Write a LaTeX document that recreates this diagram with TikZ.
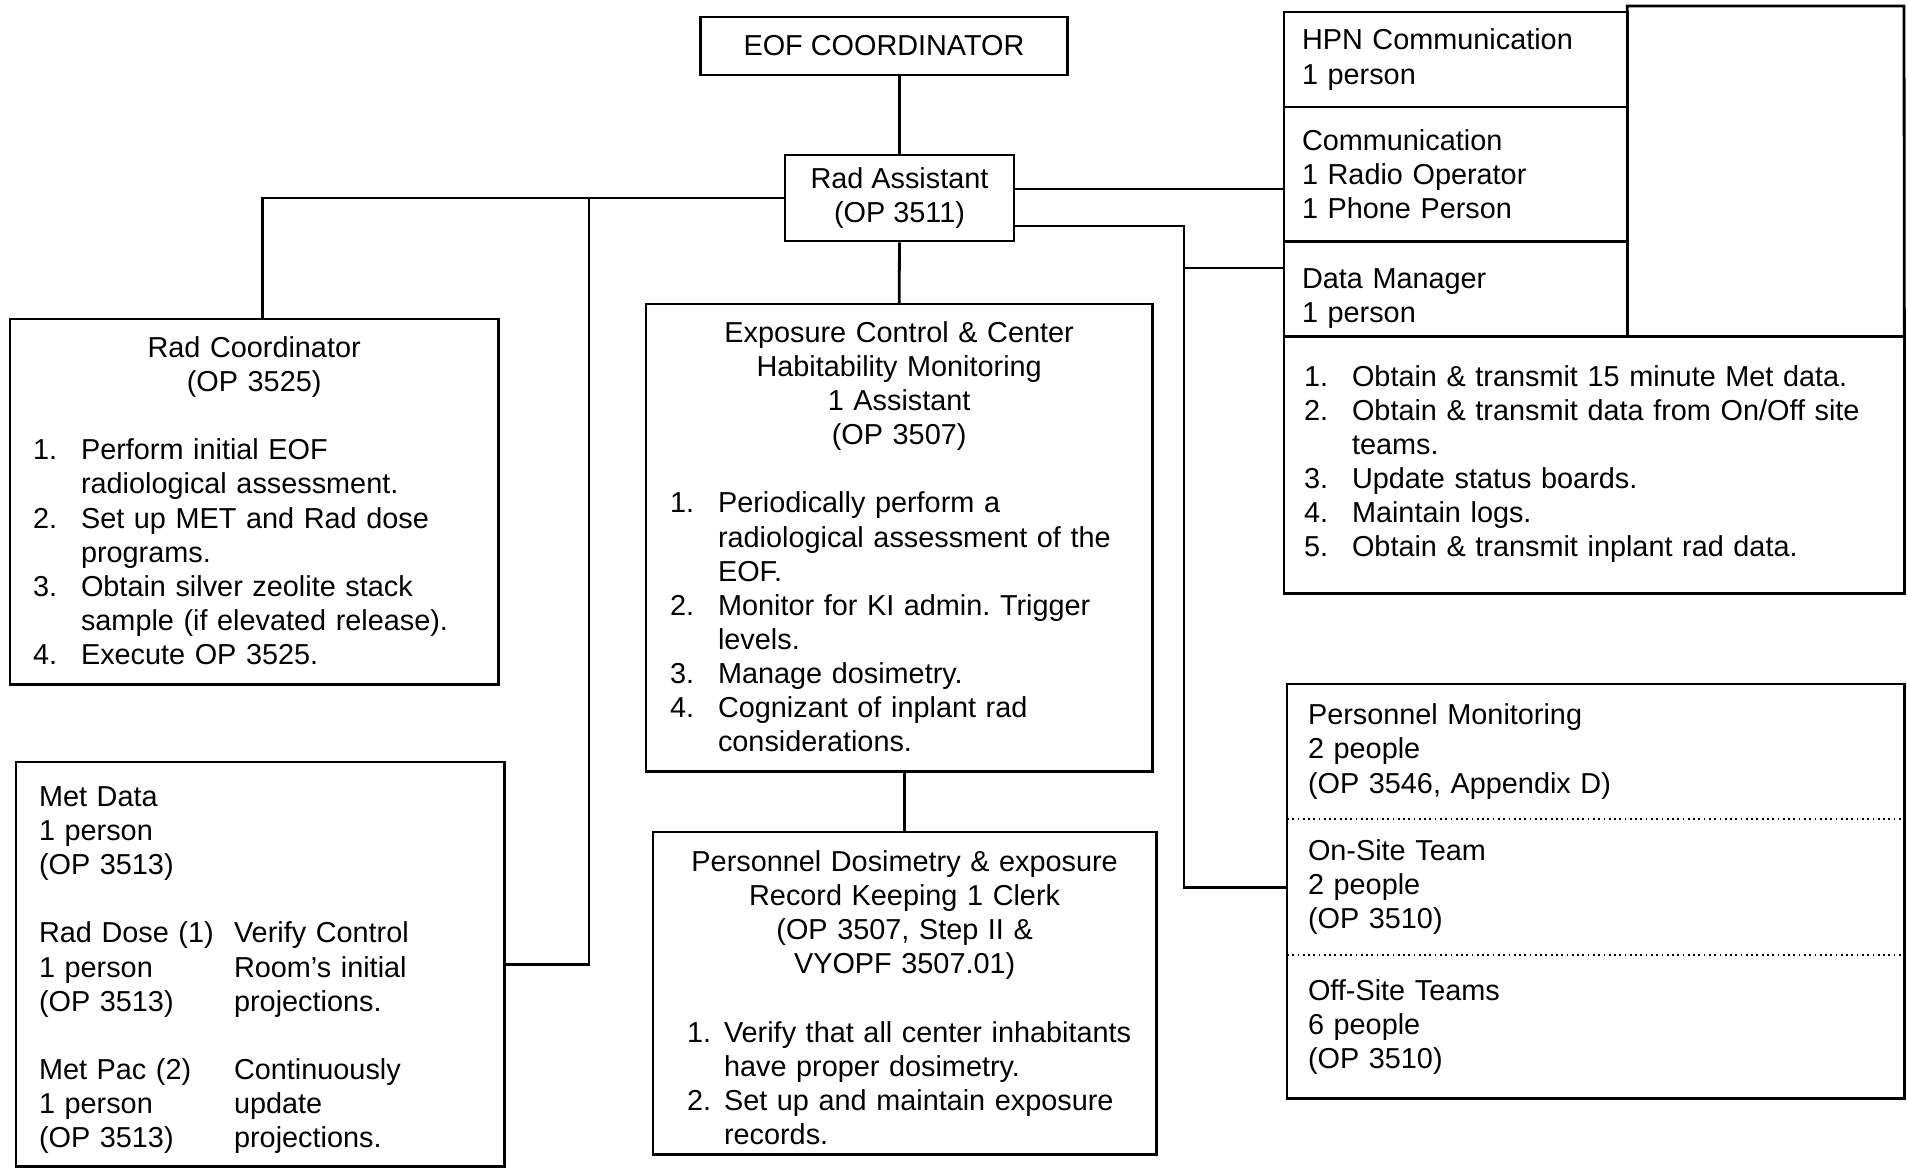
\documentclass[tikz,border=0pt]{standalone}
\usepackage{fontspec}
\setmainfont{Liberation Sans}
\usepackage{tikz}

\frenchspacing
\hyphenpenalty=10000
\newcommand{\ctr}[1]{\par\centerline{#1}}
\newcommand{\itm}[3][0.48cm]{\par\hangindent=#1\hangafter=1\noindent\makebox[#1][l]{#2}#3\par}
\newcommand{\gap}{\par\vspace{9.7pt}}
\newcommand{\lift}[1][0.15cm]{\par\kern#1}
\newcommand{\drop}[2]{\raisebox{0pt}[\dimexpr\height+#1\relax]{#2}}

\tikzset{
    card/.style={draw, anchor=north west, inner ysep=0pt, outer sep=0pt, align=left},
    title/.style={draw, align=center, inner sep=0pt},
    divider/.style={densely dotted, line width=0.5pt}
}

\begin{document}
\begin{tikzpicture}[x=0.01cm, y=-0.01cm, thick,
    font=\fontsize{8.2}{9.7}\selectfont]
    \useasboundingbox (0,0) rectangle (1908,1168);

    % Top of the chart
    \node[title, minimum width=3.66cm, minimum height=0.58cm] (eof) at (884,46) {EOF COORDINATOR};
    \node[title, minimum width=2.29cm, minimum height=0.86cm] (ra) at (899.5,198) {Rad Assistant\\(OP 3511)};

    % Left column
    \node[card, text width=4.42cm, inner xsep=0.23cm, minimum height=3.65cm] (radco) at (10,319) {%
        \ctr{Rad Coordinator}\ctr{(OP 3525)}\gap
        \itm{1.}{Perform initial EOF\newline radiological assessment.}
        \itm{2.}{Set up MET and Rad dose\newline programs.}
        \itm{3.}{Obtain silver zeolite stack\newline \mbox{sample (if elevated release).}}
        \itm{4.}{Execute OP 3525.}\lift};
    \node[card, text width=4.42cm, inner xsep=0.23cm, minimum height=4.04cm] (metd) at (16,762) {%
        \drop{0.12cm}{Met Data}\\1 person\\(OP 3513)\gap
        \makebox[1.95cm][l]{Rad Dose (1)}Verify Control\\
        \makebox[1.95cm][l]{1 person}Room's initial\\
        \makebox[1.95cm][l]{(OP 3513)}projections.\gap
        \makebox[1.95cm][l]{Met Pac (2)}Continuously\\
        \makebox[1.95cm][l]{1 person}update\\
        \makebox[1.95cm][l]{(OP 3513)}projections.};

    % Middle column
    \node[card, text width=4.58cm, inner xsep=0.24cm, minimum height=4.67cm] (expo) at (646,304) {%
        \ctr{Exposure Control \& Center}\ctr{Habitability Monitoring}%
        \ctr{1 Assistant}\ctr{(OP 3507)}\gap
        \itm{1.}{Periodically perform a\newline \mbox{radiological assessment of the}\newline EOF.}
        \itm{2.}{Monitor for KI admin. Trigger\newline levels.}
        \itm{3.}{Manage dosimetry.}
        \itm{4.}{Cognizant of inplant rad\newline considerations.}\lift};
    \node[card, text width=4.55cm, inner xsep=0.24cm, minimum height=3.22cm] (dosim) at (653,832) {%
        \ctr{Personnel Dosimetry \& exposure}\ctr{Record Keeping 1 Clerk}%
        \ctr{(OP 3507, Step II \&}\ctr{VYOPF 3507.01)}\gap
        \leftskip=0.1cm
        \itm[0.37cm]{1.}{\mbox{Verify that all center inhabitants}\newline have proper dosimetry.}
        \itm[0.37cm]{2.}{Set up and maintain exposure\newline records.}\lift[0.04cm]};

    % Right column, top group
    \node[card, text width=3.07cm, inner xsep=0.18cm, minimum height=0.95cm] (hpn) at (1284,12) {HPN Communication\\1 person};
    \node[card, text width=3.07cm, inner xsep=0.18cm, minimum height=1.34cm] (comm) at (hpn.south west) {Communication\\1 Radio Operator\\1 Phone Person};
    \node[card, text width=3.07cm, inner xsep=0.18cm, minimum height=0.95cm] (dman) at (comm.south west) {\drop{0.2cm}{Data Manager}\\1 person};
    \node[card, text width=5.80cm, inner xsep=0.20cm, minimum height=2.57cm] (dtask) at (dman.south west) {%
        \itm{1.}{Obtain \& transmit 15 minute Met data.}
        \itm{2.}{\mbox{Obtain \& transmit data from On/Off site}\newline teams.}
        \itm{3.}{Update status boards.}
        \itm{4.}{Maintain logs.}
        \itm{5.}{Obtain \& transmit inplant rad data.}\lift};
    \draw (hpn.north east) |- (1904,6) -- (dtask.north east);

    % Right column, bottom group
    \node[card, draw=none, text width=5.75cm, inner xsep=0.21cm, minimum height=1.35cm] (pmon) at (1287,684) {Personnel Monitoring\\2 people\\(OP 3546, Appendix D)};
    \node[card, draw=none, text width=5.75cm, inner xsep=0.21cm, minimum height=1.36cm] (onsite) at (pmon.south west) {On-Site Team\\2 people\\(OP 3510)};
    \node[card, draw=none, text width=5.75cm, inner xsep=0.21cm, minimum height=1.43cm] (offsite) at (onsite.south west) {Off-Site Teams\\6 people\\(OP 3510)};
    \draw (pmon.north west) rectangle (offsite.south east);
    \draw[divider] (pmon.south west) -- (pmon.south east);
    \draw[divider] (onsite.south west) -- (onsite.south east);

    % Connectors
    \draw (eof.south -| ra.north) -- (ra.north);
    \draw (ra.west) -| ([xshift=0.08cm]radco.north);
    \coordinate (lbus) at (589,198);
    \draw (lbus) |- (metd.east);
    \draw (ra.south) -- (expo.north);
    \draw (dosim.north) -- (dosim.north |- expo.south);
    \draw ([yshift=0.09cm]ra.east) -- ([yshift=0.09cm]ra.east -| comm.west);
    \coordinate (rbus) at (1184,226);
    \draw (ra.east |- rbus) -- (rbus) |- (onsite.west);
    \coordinate (dmj) at (1184,268);
    \draw (dmj) -- (dmj -| dman.west);
\end{tikzpicture}
\end{document}
